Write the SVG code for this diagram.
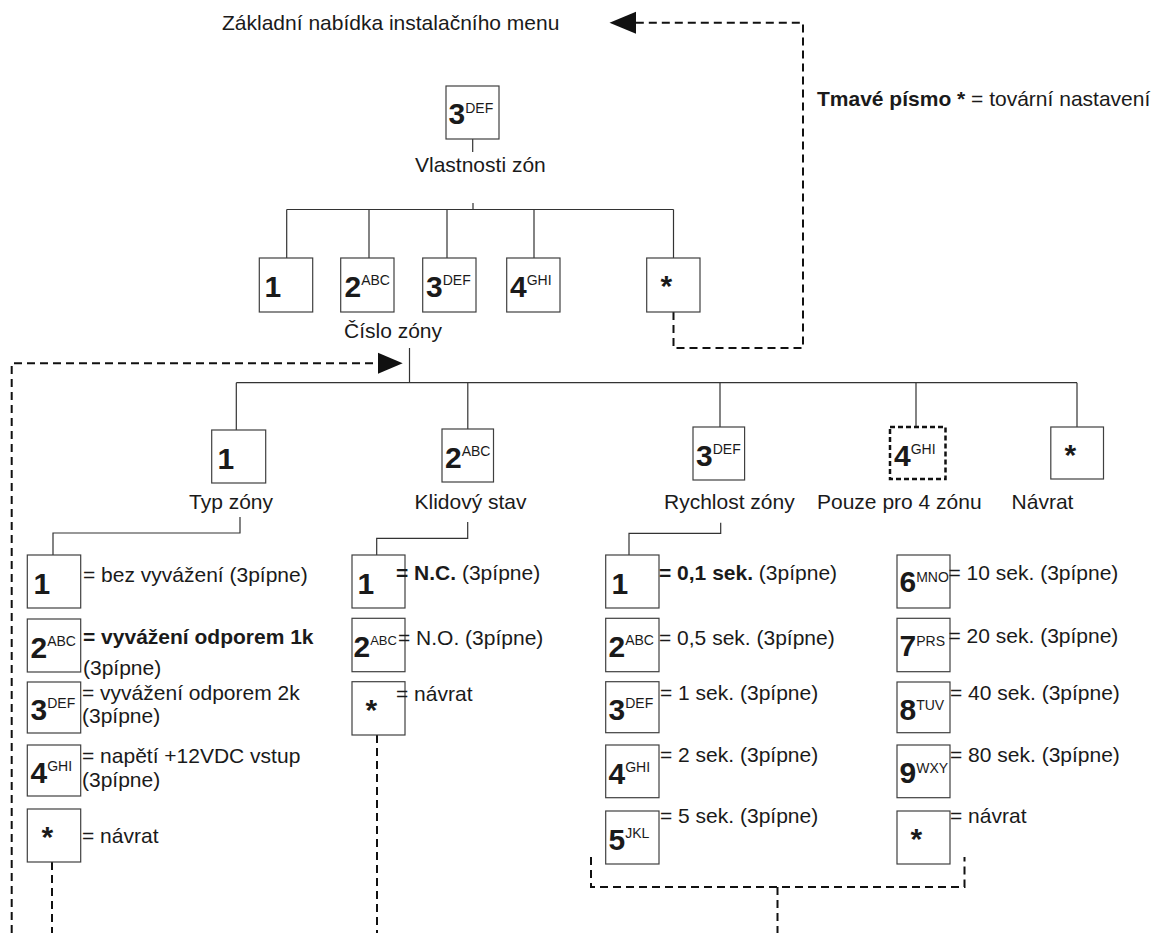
<svg xmlns="http://www.w3.org/2000/svg" width="1159" height="933" viewBox="0 0 1159 933">
<style>
.t{font-family:"Liberation Sans",Arial,sans-serif;font-size:21px;fill:#1a1a1a}
.b{font-weight:bold}
.dg{font-family:"Liberation Sans",Arial,sans-serif;font-size:30px;font-weight:bold;fill:#1a1a1a}
.sp{font-size:14px;font-weight:normal}
.box{fill:#fff;stroke:#404040;stroke-width:1.2}
.dbox{fill:#fff;stroke:#111;stroke-width:2.5;stroke-dasharray:5 3}
.ln{stroke:#333;stroke-width:1.2;fill:none}
.dash{stroke:#111;stroke-width:2;stroke-dasharray:8 5;fill:none}
.ah{fill:#111}
</style>
<rect width="1159" height="933" fill="#fff"/>
<g id="connectors">
<path class="ln" d="M472.7,139V152M473,203V209.5M286.7,209.5H673.5M286.7,209.5V258M369,209.5V258M447,209.5V258M534,209.5V258M673.5,209.5V258"/>
<path class="ln" d="M409.5,348V382.7M236.3,382.7H1077M236.3,382.7V430M467.8,382.7V429M720,382.7V427M916,382.7V427M1077,382.7V427"/>
<path class="ln" d="M240,517V533H53V555M467.7,522V538.3H376.7V555M720.7,522.7V533.3H629V555"/>
<path class="dash" d="M673.5,312V348H803V22.7H636"/>
<polygon class="ah" points="609.5,22.7 636,11.7 636,33.7"/>
<path class="dash" d="M11.7,933V363.3H378"/>
<polygon class="ah" points="402.7,363.3 378,352.8 378,373.8"/>
<path class="dash" d="M52,862V933M377,735V933M591,857V887H964.5V857M777.5,887V933"/>
</g>
<g id="title"><text class="t" x="222" y="29.5">Základní nabídka instalačního menu</text></g>
<g id="legend"><text class="t" x="817" y="106"><tspan class="b">Tmavé písmo *</tspan> = tovární nastavení</text></g>
<g id="n-top"><rect class="box" x="446" y="86" width="53" height="53"/><text class="dg" x="448.5" y="124">3<tspan class="sp" dy="-11">DEF</tspan></text><text class="t" x="415" y="171.7">Vlastnosti zón</text></g>
<g id="z1"><rect class="box" x="259.3" y="258" width="53.4" height="54"/><text class="dg" x="264.5" y="296.5">1</text></g>
<g id="z2"><rect class="box" x="340.7" y="258" width="53.3" height="54"/><text class="dg" x="344.5" y="296.5">2<tspan class="sp" dy="-12">ABC</tspan></text></g>
<g id="z3"><rect class="box" x="422.7" y="258" width="53.3" height="54"/><text class="dg" x="426" y="296.5">3<tspan class="sp" dy="-12">DEF</tspan></text></g>
<g id="z4"><rect class="box" x="506.7" y="258" width="53.3" height="54"/><text class="dg" x="510" y="296.5">4<tspan class="sp" dy="-12">GHI</tspan></text></g>
<g id="zs"><rect class="box" x="646.7" y="258" width="53.3" height="54"/><text class="dg" x="660.5" y="296">*</text></g>
<g id="cislo"><text class="t" x="344" y="338">Číslo zóny</text></g>
<g id="typ"><rect class="box" x="211.7" y="430" width="54" height="53"/><text class="dg" x="217.5" y="468.5">1</text><text class="t" x="189" y="509">Typ zóny</text></g>
<g id="klid"><rect class="box" x="442" y="429" width="51.5" height="53"/><text class="dg" x="445" y="467.5">2<tspan class="sp" dy="-12">ABC</tspan></text><text class="t" x="414.5" y="509">Klidový stav</text></g>
<g id="rych"><rect class="box" x="693" y="427" width="51.6" height="53"/><text class="dg" x="696" y="465.5">3<tspan class="sp" dy="-12">DEF</tspan></text><text class="t" x="664" y="509">Rychlost zóny</text></g>
<g id="pouze"><rect class="dbox" x="890" y="427" width="55.5" height="52"/><text class="dg" x="894" y="465.5">4<tspan class="sp" dy="-12">GHI</tspan></text><text class="t" x="817" y="509">Pouze pro 4 zónu</text></g>
<g id="navrat"><rect class="box" x="1050.8" y="427" width="52.7" height="52"/><text class="dg" x="1064.5" y="465">*</text><text class="t" x="1011.6" y="509">Návrat</text></g>
<g id="t1"><rect class="box" x="27.3" y="555" width="53.4" height="53"/><text class="dg" x="33.5" y="593.5">1</text><text class="t" x="83" y="582">= bez vyvážení (3pípne)</text></g>
<g id="t2"><rect class="box" x="27.3" y="619" width="53.4" height="53"/><text class="dg" x="30.5" y="657.5">2<tspan class="sp" dy="-12">ABC</tspan></text><text class="t b" x="83" y="643.5">= vyvážení odporem 1k</text><text class="t" x="83" y="674.5">(3pípne)</text></g>
<g id="t3"><rect class="box" x="27.3" y="682" width="53.4" height="51"/><text class="dg" x="30.5" y="720">3<tspan class="sp" dy="-12">DEF</tspan></text><text class="t" x="82" y="700">= vyvážení odporem 2k</text><text class="t" x="82" y="723">(3pípne)</text></g>
<g id="t4"><rect class="box" x="27.3" y="745" width="53.4" height="51"/><text class="dg" x="30.5" y="783">4<tspan class="sp" dy="-12">GHI</tspan></text><text class="t" x="82" y="763">= napětí +12VDC vstup</text><text class="t" x="82" y="787">(3pípne)</text></g>
<g id="t5"><rect class="box" x="27.3" y="809" width="53.4" height="53"/><text class="dg" x="41.5" y="847">*</text><text class="t" x="82" y="843">= návrat</text></g>
<g id="k1"><rect class="box" x="352" y="555" width="53" height="53"/><text class="dg" x="357.5" y="593.5">1</text><text class="t" x="396" y="580"><tspan class="b">= N.C.</tspan> (3pípne)</text></g>
<g id="k2"><rect class="box" x="352" y="618.3" width="53" height="53.4"/><text class="dg" x="353.5" y="657">2<tspan class="sp" dy="-12" style="font-size:13px">ABC</tspan></text><text class="t" x="398" y="645">= N.O. (3pípne)</text></g>
<g id="k3"><rect class="box" x="352" y="681.7" width="53" height="53.3"/><text class="dg" x="365.5" y="720">*</text><text class="t" x="396" y="701">= návrat</text></g>
<g id="r1"><rect class="box" x="605.7" y="555" width="53.3" height="53"/><text class="dg" x="611.5" y="593.5">1</text><text class="t" x="659" y="580"><tspan class="b">= 0,1 sek.</tspan> (3pípne)</text></g>
<g id="r2"><rect class="box" x="605.7" y="618.3" width="53.3" height="53.4"/><text class="dg" x="608.5" y="657">2<tspan class="sp" dy="-12">ABC</tspan></text><text class="t" x="659" y="645">= 0,5 sek. (3pípne)</text></g>
<g id="r3"><rect class="box" x="605.7" y="681.7" width="53.3" height="51"/><text class="dg" x="608.5" y="719.5">3<tspan class="sp" dy="-12">DEF</tspan></text><text class="t" x="660" y="700">= 1 sek. (3pípne)</text></g>
<g id="r4"><rect class="box" x="605.7" y="745" width="53.3" height="52.7"/><text class="dg" x="608.5" y="783.5">4<tspan class="sp" dy="-12">GHI</tspan></text><text class="t" x="660" y="762">= 2 sek. (3pípne)</text></g>
<g id="r5"><rect class="box" x="605.7" y="811" width="53.3" height="53"/><text class="dg" x="608.5" y="849.5">5<tspan class="sp" dy="-12">JKL</tspan></text><text class="t" x="660" y="823">= 5 sek. (3pípne)</text></g>
<g id="r6"><rect class="box" x="897" y="555" width="53" height="53"/><text class="dg" x="899.5" y="592">6<tspan class="sp" dy="-10">MNO</tspan></text><text class="t" x="948.5" y="580">= 10 sek. (3pípne)</text></g>
<g id="r7"><rect class="box" x="897" y="618.3" width="53" height="53.4"/><text class="dg" x="899.5" y="655.5">7<tspan class="sp" dy="-10">PRS</tspan></text><text class="t" x="948.5" y="643">= 20 sek. (3pípne)</text></g>
<g id="r8"><rect class="box" x="897" y="682" width="53" height="50.7"/><text class="dg" x="899.5" y="719.5">8<tspan class="sp" dy="-10">TUV</tspan></text><text class="t" x="950" y="700">= 40 sek. (3pípne)</text></g>
<g id="r9"><rect class="box" x="897" y="745" width="53" height="52.7"/><text class="dg" x="899.5" y="782.5">9<tspan class="sp" dy="-10">WXY</tspan></text><text class="t" x="950" y="762">= 80 sek. (3pípne)</text></g>
<g id="r10"><rect class="box" x="897" y="811" width="53" height="53"/><text class="dg" x="910.5" y="849">*</text><text class="t" x="950" y="823">= návrat</text></g>
</svg>
